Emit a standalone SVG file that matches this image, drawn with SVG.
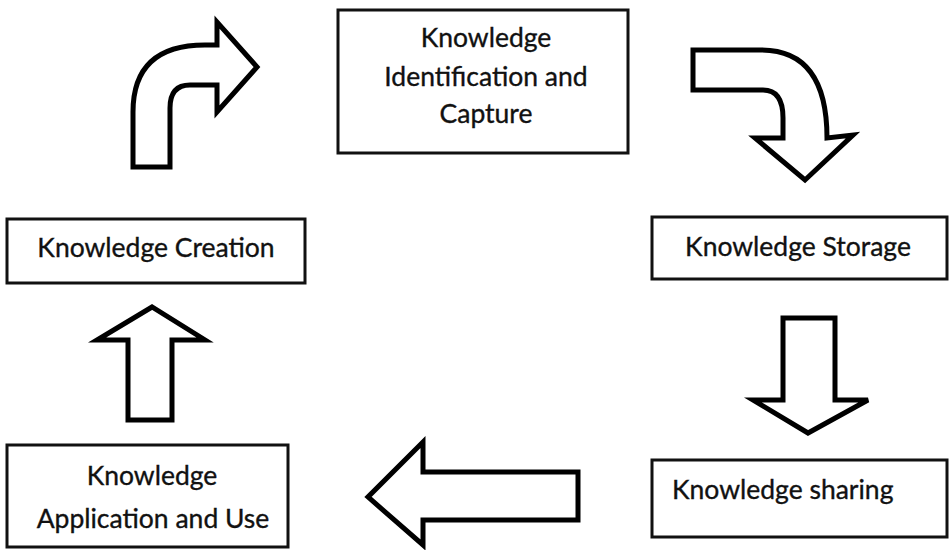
<svg xmlns="http://www.w3.org/2000/svg" width="951" height="550" viewBox="0 0 951 550">
<style>
.box{fill:#ffffff;stroke:#111111;stroke-width:3}
.arr{fill:#ffffff;stroke:#000000;stroke-width:5;stroke-linejoin:miter}
.t{font-family:Lato,"Open Sans","Liberation Sans",sans-serif;font-size:26.5px;fill:#111111;stroke:#111111;stroke-width:0.35;text-anchor:middle}
.l{text-anchor:start}
</style>
<rect width="951" height="550" fill="#ffffff"/>
<g id="connectors">
<path id="arrow-top-left" class="arr" d="M133,167 L133,112 Q133,45 205,45 L217,45 L217,22 L257,67 L217,112 L217,85 L190,85 Q170,85 170,108 L170,167 Z"/>
<path id="arrow-top-right" class="arr" d="M693,50 L761,50 Q827,50 827,138 L853,135 L805,180 L755,138 L783,138 L783,118 Q783,90 763,90 L693,90 Z"/>
<path id="arrow-down" class="arr" d="M783,318 L835,318 L835,400 L868,400 L808,433 L753,400 L783,400 Z"/>
<path id="arrow-left" class="arr" d="M578,472 L423,472 L423,442 L368,497 L423,545 L423,520 L578,520 Z"/>
<path id="arrow-up" class="arr" d="M128,420 L128,340 L97,340 L152,307 L205,340 L172,340 L172,420 Z"/>
</g>
<g id="node-identification">
<rect class="box" x="338" y="10" width="290" height="143"/>
<text class="t" x="486" y="47">Knowledge</text>
<text class="t" x="486" y="86">Identification and</text>
<text class="t" x="486" y="123">Capture</text>
</g>
<g id="node-creation">
<rect class="box" x="7" y="219" width="298" height="64"/>
<text class="t" x="156" y="257">Knowledge Creation</text>
</g>
<g id="node-storage">
<rect class="box" x="652" y="217" width="295" height="62"/>
<text class="t" x="798" y="256">Knowledge Storage</text>
</g>
<g id="node-sharing">
<rect class="box" x="652" y="460" width="295" height="77"/>
<text class="t l" x="672" y="499">Knowledge sharing</text>
</g>
<g id="node-application">
<rect class="box" x="7" y="445" width="281" height="102"/>
<text class="t" x="152" y="485">Knowledge</text>
<text class="t" x="153" y="528">Application and Use</text>
</g>
</svg>
